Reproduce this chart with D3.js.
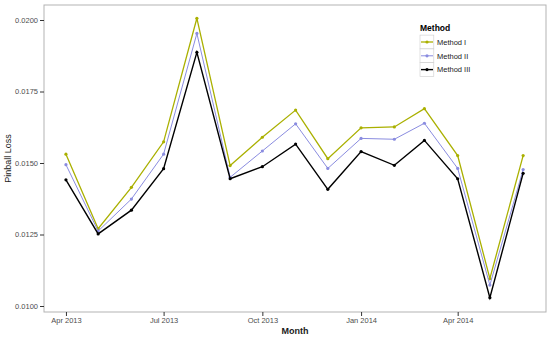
<!DOCTYPE html>
<html><head><meta charset="utf-8">
<script src="https://cdn.jsdelivr.net/npm/d3@7"></script>
<style>body{margin:0;background:#fff}svg{display:block;font-family:"Liberation Sans",Arial,sans-serif}</style>
</head><body><svg id="c" width="550" height="338"></svg>
<script>
const months = ["2013-04","2013-05","2013-06","2013-07","2013-08","2013-09","2013-10","2013-11","2013-12","2014-01","2014-02","2014-03","2014-04","2014-05","2014-06"];
const methodI   = [0.01531,0.01270,0.01415,0.01574,0.02006,0.01491,0.01590,0.01685,0.01515,0.01623,0.01626,0.01690,0.01526,0.01096,0.01526];
const methodII  = [0.01494,0.01262,0.01374,0.01531,0.01953,0.01450,0.01542,0.01637,0.01481,0.01586,0.01583,0.01639,0.01481,0.01073,0.01477];
const methodIII = [0.01441,0.01252,0.01335,0.01480,0.01887,0.01445,0.01487,0.01566,0.01408,0.01540,0.01492,0.01579,0.01445,0.01029,0.01464];
const seriesNames = ["Method I","Method II","Method III"];
const seriesColors = ["#aab000","#8a8ce0","#000000"];
const yTicks = [0.0100,0.0125,0.0150,0.0175,0.0200];
const xTicks = ["2013-04","2013-07","2013-10","2014-01","2014-04"];

const parse = d3.timeParse("%Y-%m");
const dates = months.map(parse);
const svg = d3.select("#c");
const L=44,R=546,T=5,B=312;
const x0 = dates[0], x1 = dates[dates.length-1];
const span = x1 - x0;
const x = d3.scaleTime().domain([new Date(+x0 - span*0.048), new Date(+x1 + span*0.05)]).range([L,R]);
const y = d3.scaleLinear().domain([0.01 - 6/28600, 0.02 + 15/28600]).range([B,T]);

svg.append("rect").attr("x",L).attr("y",T).attr("width",R-L).attr("height",B-T)
  .attr("fill","#fff").attr("stroke","#b3b3b3").attr("stroke-width",1);

const ya = svg.append("g").attr("transform",`translate(${L},0)`)
  .call(d3.axisLeft(y).tickValues(yTicks).tickFormat(d3.format(".4f")).tickSize(4).tickPadding(2));
const xa = svg.append("g").attr("transform",`translate(0,${B})`)
  .call(d3.axisBottom(x).tickValues(xTicks.map(parse)).tickFormat(d3.timeFormat("%b %Y")).tickSize(4).tickPadding(2));
[ya,xa].forEach(a=>{
  a.select(".domain").remove();
  a.selectAll(".tick line").attr("stroke","#333").attr("stroke-width",1);
  a.selectAll(".tick text").attr("fill","#4d4d4d").style("font-size","7.5px").style("font-family","'Liberation Sans',Arial,sans-serif");
});

const all = [methodI, methodII, methodIII];
const line = d3.line().x((d,i)=>x(dates[i])).y(d=>y(d));
const widths=[1.3,1.0,1.4];
all.forEach((vals,k)=>{
  svg.append("path").datum(vals).attr("d",line).attr("fill","none")
    .attr("stroke",seriesColors[k]).attr("stroke-width",widths[k]);
  svg.append("g").selectAll("circle").data(vals).join("circle")
    .attr("cx",(d,i)=>x(dates[i])).attr("cy",d=>y(d)).attr("r",1.6).attr("fill",seriesColors[k]);
});

svg.append("text").attr("x",(L+R)/2).attr("y",334).attr("text-anchor","middle")
  .style("font-size","9px").style("font-weight","bold").attr("fill","#1a1a1a").text("Month");
svg.append("text").attr("transform",`translate(11,${(T+B)/2}) rotate(-90)`).attr("text-anchor","middle")
  .style("font-size","9px").attr("fill","#1a1a1a").text("Pinball Loss");

const lg = svg.append("g");
lg.append("text").attr("x",420).attr("y",31).style("font-size","8.5px").style("font-weight","bold").attr("fill","#000").text("Method");
seriesNames.forEach((n,k)=>{
  const cy = 42 + k*13.8;
  lg.append("rect").attr("x",420).attr("y",cy-6.9).attr("width",13.8).attr("height",13.8).attr("fill","#fff").attr("stroke","#cccccc").attr("stroke-width",0.6);
  lg.append("line").attr("x1",421).attr("x2",433).attr("y1",cy).attr("y2",cy).attr("stroke",seriesColors[k]).attr("stroke-width",widths[k]);
  lg.append("circle").attr("cx",427).attr("cy",cy).attr("r",1.6).attr("fill",seriesColors[k]);
  lg.append("text").attr("x",437).attr("y",cy+2.8).style("font-size","7.5px").attr("fill","#1a1a1a").text(n);
});
</script></body></html>
